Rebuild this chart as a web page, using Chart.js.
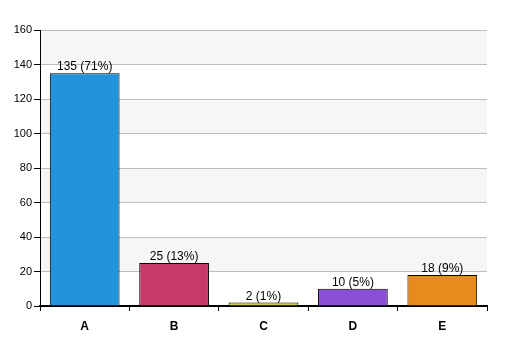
<!DOCTYPE html>
<html>
<head>
<meta charset="utf-8">
<script src="https://cdn.jsdelivr.net/npm/chart.js@4"></script>
<style>
html,body{margin:0;padding:0;background:#fff;}
#wrap{width:507px;height:356px;position:relative;}
</style>
</head>
<body>
<div id="wrap"><canvas id="c" width="507" height="356"></canvas></div>
<script>
const categories = ['A', 'B', 'C', 'D', 'E'];
const counts = [135, 25, 2, 10, 18];
const percents = [71, 13, 1, 5, 9];
const barColors = ['#2394dc', '#c63a67', '#d2cd45', '#8b4fd6', '#e68c1c'];
const yTicks = [0, 20, 40, 60, 80, 100, 120, 140, 160];
const bandRanges = [[20, 40], [60, 80], [100, 120], [140, 160]];

const bandPlugin = {
  id: 'bands',
  beforeDraw(chart) {
    const {ctx, chartArea, scales} = chart;
    ctx.save();
    ctx.fillStyle = '#f6f6f6';
    bandRanges.forEach(([a, b]) => {
      const y1 = scales.y.getPixelForValue(b);
      const y2 = scales.y.getPixelForValue(a);
      ctx.fillRect(chartArea.left, y1, chartArea.right - chartArea.left, y2 - y1);
    });
    ctx.restore();
  }
};

const labelPlugin = {
  id: 'barLabels',
  afterDatasetsDraw(chart) {
    const {ctx} = chart;
    const meta = chart.getDatasetMeta(0);
    ctx.save();
    ctx.font = '12px Arial, "Liberation Sans", sans-serif';
    ctx.fillStyle = '#000';
    ctx.textAlign = 'center';
    ctx.textBaseline = 'alphabetic';
    meta.data.forEach((bar, i) => {
      ctx.fillText(counts[i] + ' (' + percents[i] + '%)', bar.x, bar.y - 3);
    });
    ctx.restore();
  }
};

new Chart(document.getElementById('c'), {
  type: 'bar',
  data: {
    labels: categories,
    datasets: [{
      data: counts,
      backgroundColor: barColors,
      borderColor: '#000',
      borderWidth: 1,
      categoryPercentage: 1,
      barPercentage: 0.78
    }]
  },
  options: {
    responsive: false,
    animation: false,
    devicePixelRatio: 1,
    layout: {padding: {top: 30, right: 20, left: 0, bottom: 0}},
    plugins: {legend: {display: false}, tooltip: {enabled: false}},
    scales: {
      y: {
        min: 0, max: 160,
        afterBuildTicks(axis) { axis.ticks = yTicks.map(v => ({value: v})); },
        afterFit(axis) { axis.width = 40; },
        ticks: {
          color: '#000',
          font: {family: 'Arial, "Liberation Sans", sans-serif', size: 11},
          padding: 2
        },
        grid: {color: '#bdbdbd', tickColor: '#000', tickLength: 6, lineWidth: 1},
        border: {display: true, color: '#000', width: 1}
      },
      x: {
        afterFit(axis) { axis.height = 50; },
        ticks: {
          color: '#000',
          font: {family: 'Arial, "Liberation Sans", sans-serif', size: 12, weight: 'bold'},
          padding: 8
        },
        grid: {offset: true, drawOnChartArea: false, drawTicks: true, tickLength: 5, tickColor: '#000'},
        border: {display: true, color: '#000', width: 2}
      }
    }
  },
  plugins: [bandPlugin, labelPlugin]
});
</script>
</body>
</html>
